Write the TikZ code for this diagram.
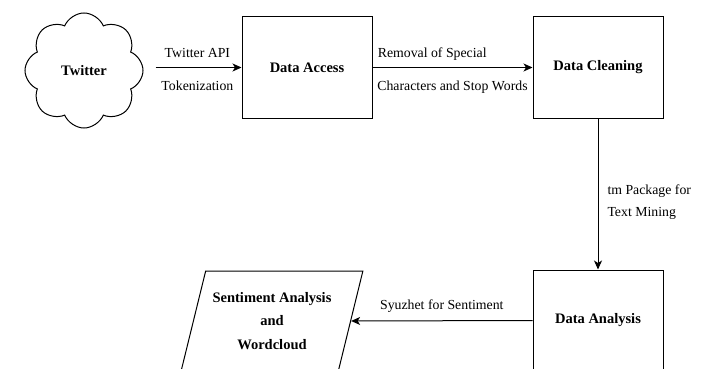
\documentclass[tikz,border=0pt]{standalone}
\usepackage{fontspec}
\setmainfont{Liberation Serif}
\usetikzlibrary{shapes.symbols,shapes.geometric,arrows.meta}
\begin{document}
\begin{tikzpicture}[x=1pt,y=-1pt,
  box/.style={draw, line width=1pt, minimum width=130pt, minimum height=101pt, inner sep=0pt,
    font=\fontsize{14.5}{16}\selectfont\bfseries},
  lbl/.style={font=\fontsize{13.8}{16}\selectfont, inner sep=0pt},
  arr/.style={line width=1pt, -{Stealth[length=9pt,width=8pt,inset=2.5pt]}},
]
\useasboundingbox (0,0) rectangle (707,369);
\node[cloud, draw, line width=1pt, cloud puffs=8, cloud puff arc=135, cloud ignores aspect,
  minimum width=118pt, minimum height=115pt, inner sep=0pt,
  font=\fontsize{14.5}{16}\selectfont\bfseries] (tw) at (84,70.5) {Twitter};
\node[box] (da) at (307,67.5) {Data Access};
\node[box] (dc) at (598,67.5) {Data Cleaning};
\node[box] (dan) at (598,320.5) {Data Analysis};
\node[trapezium, draw, line width=1pt, trapezium left angle=69, trapezium right angle=111,
  trapezium stretches=true, minimum width=182pt, minimum height=100pt, inner sep=0pt,
  align=center, font=\fontsize{14.5}{23.5}\selectfont\bfseries] (sa) at (272,321)
  {Sentiment Analysis\\and\\Wordcloud};

\draw[arr, shorten <=12pt] (da.west -| tw.east) -- (da.west)
  node[lbl, pos=0.55, anchor=base, yshift=9.5pt] {Twitter API}
  node[lbl, pos=0.55, anchor=base, yshift=-23.5pt] {Tokenization};
\draw[arr] (da.east) -- (dc.west)
  node[lbl, pos=0.03, anchor=base west, yshift=9.5pt] {Removal of Special}
  node[lbl, pos=0.5, anchor=base, yshift=-23.5pt] {Characters and Stop Words};
\draw[arr] (dc.south) -- (dan.north)
  node[lbl, pos=0.5, anchor=west, align=left, xshift=9pt, yshift=-8pt,
    font=\fontsize{13.8}{22}\selectfont] {tm Package for\\Text Mining};
\draw[arr] (dan.west) -- (sa.east)
  node[lbl, pos=0.5, anchor=base, yshift=11pt] {Syuzhet for Sentiment};
\end{tikzpicture}
\end{document}
